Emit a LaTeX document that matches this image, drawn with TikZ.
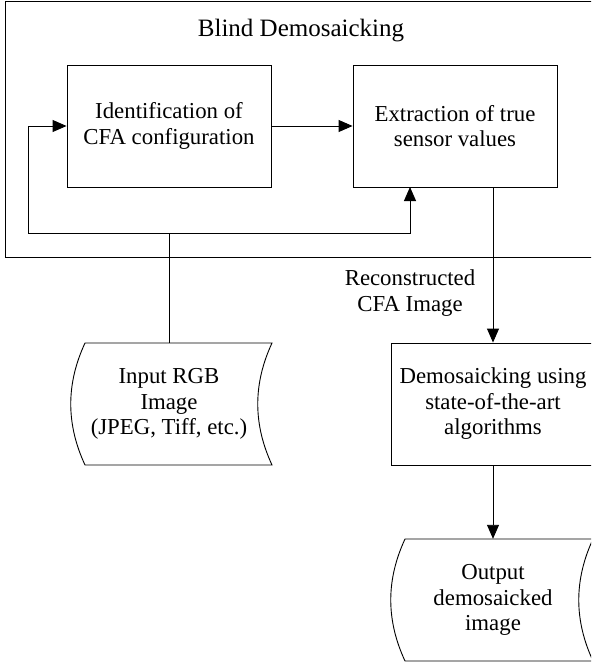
\documentclass[tikz,border=0pt]{standalone}
\usepackage{fontspec}
\setmainfont{Liberation Serif}
\usetikzlibrary{arrows.meta}
\tikzset{
  every picture/.style={x=1pt,y=-1pt},
  ln/.style={line width=0.9pt,draw=black},
  arr/.style={ln,-{Triangle[length=14pt,width=12pt]}},
  txt/.style={font=\fontsize{22.8}{25.5}\selectfont,align=center,inner sep=0pt},
  blk/.style={txt,ln,minimum width=204pt,minimum height=122pt},
  dat/.style={txt,draw=none,minimum height=122pt},
}
\begin{document}
\begin{tikzpicture}
\useasboundingbox (0,0) rectangle (591,663);
\clip (0,0) rectangle (591,663);
\fill[white] (0,0) rectangle (591,663);
% outer frame
\draw[ln] (5,1) rectangle (640,257);
\node[txt,anchor=base,font=\fontsize{25}{28}\selectfont] (title) at (301,37) {Blind Demosaicking};
% blocks
\node[blk] (b1) at (169,126) {Identification of\\CFA configuration};
\node[blk] (b2) at (455,126) {Extraction of true\\sensor values};
\node[blk] (dem) at (493,404) {Demosaicking using\\state-of-the-art\\algorithms};
% input data shape
\node[dat] (in) at (169,404) {Input RGB\\Image\\(JPEG, Tiff, etc.)};
\draw[ln] (85,343) -- (272,343) .. controls (253,384) and (253,424) .. (272,465)
  -- (85,465) .. controls (66,424) and (66,384) .. (85,343) -- cycle;
% output data shape
\node[dat] (out) at (493,600) {Output\\demosaicked\\image};
\draw[ln] (405,539) -- (593,539) .. controls (574,580) and (574,620) .. (593,661)
  -- (405,661) .. controls (386,620) and (386,580) .. (405,539) -- cycle;
% label
\node[txt] (lbl) at (410,293) {Reconstructed\\CFA Image};
% connectors
\coordinate (j) at (169,233);
\coordinate (lc) at (28,233);
\coordinate (b2in) at (410,187);
\coordinate (b2out) at (493,187);
\draw[arr] (b1.east) -- (b2.west);
\draw[arr] (in.north) -- (j) -- (lc) |- (b1.west);
\draw[arr] (j) -| (b2in);
\draw[arr] (b2out) -- (dem.north);
\draw[arr] (dem.south) -- (out.north);
\end{tikzpicture}
\end{document}
